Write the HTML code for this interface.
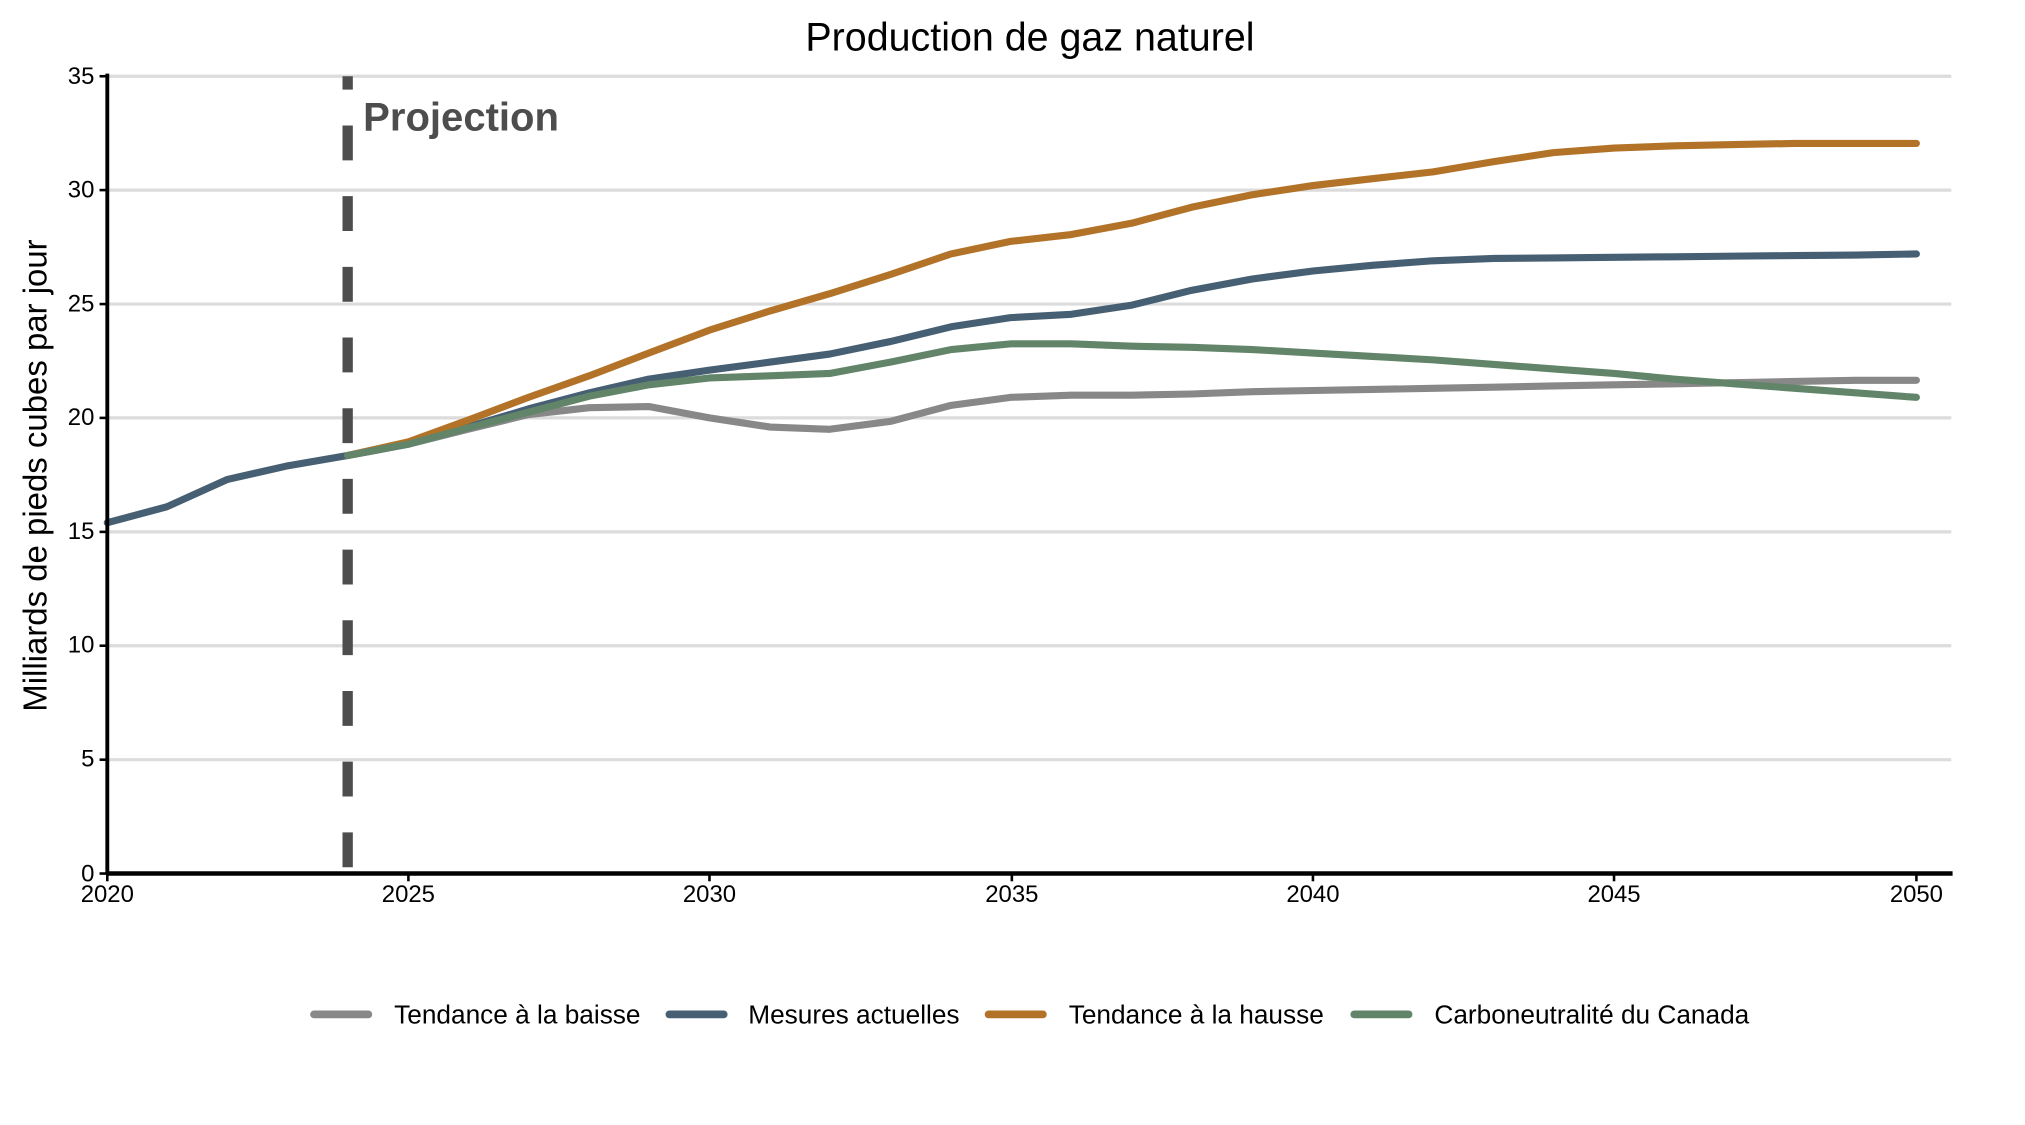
<!DOCTYPE html>
<html><head><meta charset="utf-8"><style>html,body{margin:0;padding:0;background:#fff;}svg{display:block}</style></head>
<body>
<svg width="2025" height="1125" viewBox="0 0 1567 870.6" xmlns="http://www.w3.org/2000/svg" font-family="Liberation Sans, Arial, sans-serif">
<rect width="1567" height="871" fill="#fff"/>
<text x="797" y="39" font-size="30.5" text-anchor="middle" fill="#000">Production de gaz naturel</text>
<g stroke="#dcdcdc" stroke-width="2.5">
<line x1="83" x2="1510" y1="59" y2="59"/><line x1="83" x2="1510" y1="147.1" y2="147.1"/>
<line x1="83" x2="1510" y1="235.3" y2="235.3"/><line x1="83" x2="1510" y1="323.4" y2="323.4"/>
<line x1="83" x2="1510" y1="411.6" y2="411.6"/><line x1="83" x2="1510" y1="499.7" y2="499.7"/>
<line x1="83" x2="1510" y1="587.9" y2="587.9"/>
</g>
<g font-size="18.5" fill="#000" text-anchor="end">
<text x="73" y="65">35</text><text x="73" y="153">30</text><text x="73" y="241">25</text><text x="73" y="329">20</text>
<text x="73" y="417">15</text><text x="73" y="505">10</text><text x="73" y="593">5</text><text x="73" y="682">0</text>
</g>
<g font-size="18.5" fill="#000" text-anchor="middle">
<text x="83" y="698">2020</text><text x="316" y="698">2025</text><text x="549" y="698">2030</text><text x="783" y="698">2035</text>
<text x="1016" y="698">2040</text><text x="1249" y="698">2045</text><text x="1483" y="698">2050</text>
</g>
<text transform="translate(36,368) rotate(-90)" font-size="25.5" text-anchor="middle" fill="#000">Milliards de pieds cubes par jour</text>
<line x1="269" x2="269" y1="59" y2="676" stroke="#4d4d4d" stroke-width="8" stroke-dasharray="27 27.7" stroke-dashoffset="16.6"/>
<text x="281" y="101" font-size="31" font-weight="bold" fill="#4d4d4d">Projection</text>
<g fill="none" stroke-width="5.5" stroke-linejoin="round" stroke-linecap="round">
<polyline stroke="#888888" points="269,352.5 316,343.7 362,332.2 409,320.8 456,315.5 502,314.6 549,323.4 596,330.5 642,332.2 689,326.1 736,313.7 782,307.5 829,305.8 876,305.8 922,304.9 969,303.1 1016,302.2 1062,301.4 1109,300.5 1156,299.6 1202,298.7 1249,297.8 1296,297 1342,296.1 1389,295.2 1436,294.3 1483,294.3"/>
<polyline stroke="#465f72" points="83,404.5 129,392.2 176,371 223,360.4 269,352.5 316,343.7 362,330.5 409,316.4 456,304.0 502,293.4 549,286.4 596,280.2 642,274.0 689,264.3 736,252.9 782,245.8 829,243.2 876,236.1 922,224.7 969,215.9 1016,209.7 1062,205.3 1109,201.8 1156,200.0 1202,199.6 1249,199.1 1296,198.7 1342,198.2 1389,197.8 1436,197.4 1483,196.5"/>
<polyline stroke="#b27329" points="269,352.5 316,341.9 362,325.2 409,307.5 456,290.8 502,273.2 549,255.5 596,240.6 642,227.3 689,212.4 736,196.5 782,186.8 829,181.5 876,172.7 922,160.4 969,150.7 1016,143.6 1062,138.3 1109,133.0 1156,125.1 1202,118.1 1249,114.6 1296,112.8 1342,111.9 1389,111.0 1436,111.0 1483,111.0"/>
<polyline stroke="#62856a" points="269,352.5 316,343.7 362,331.3 409,319.0 456,306.6 502,297.8 549,292.5 596,290.8 642,289.0 689,280.2 736,270.5 782,266.1 829,266.1 876,267.9 922,268.8 969,270.5 1016,273.2 1062,275.8 1109,278.5 1156,282.0 1202,285.5 1249,289.0 1296,293.4 1342,297.0 1389,300.5 1436,304.0 1483,307.5"/>
</g>
<line x1="83" x2="83" y1="57" y2="677" stroke="#000" stroke-width="3"/>
<line x1="82" x2="1511" y1="676" y2="676" stroke="#000" stroke-width="3.5"/>
<g stroke="#000" stroke-width="2">
<line x1="77" x2="83" y1="59" y2="59"/><line x1="77" x2="83" y1="147.1" y2="147.1"/><line x1="77" x2="83" y1="235.3" y2="235.3"/>
<line x1="77" x2="83" y1="323.4" y2="323.4"/><line x1="77" x2="83" y1="411.6" y2="411.6"/><line x1="77" x2="83" y1="499.7" y2="499.7"/>
<line x1="77" x2="83" y1="587.9" y2="587.9"/><line x1="77" x2="83" y1="676" y2="676"/>
<line x1="83" x2="83" y1="676" y2="682"/><line x1="316" x2="316" y1="676" y2="682"/><line x1="549" x2="549" y1="676" y2="682"/>
<line x1="783" x2="783" y1="676" y2="682"/><line x1="1016" x2="1016" y1="676" y2="682"/><line x1="1249" x2="1249" y1="676" y2="682"/>
<line x1="1483" x2="1483" y1="676" y2="682"/>
</g>
<g stroke-width="6" stroke-linecap="round">
<line x1="243" x2="285" y1="785" y2="785" stroke="#888888"/>
<line x1="518" x2="560" y1="785" y2="785" stroke="#465f72"/>
<line x1="765" x2="807" y1="785" y2="785" stroke="#b27329"/>
<line x1="1048" x2="1090" y1="785" y2="785" stroke="#62856a"/>
</g>
<g font-size="20.3" fill="#000">
<text x="305" y="792">Tendance à la baisse</text>
<text x="579" y="792">Mesures actuelles</text>
<text x="827" y="792">Tendance à la hausse</text>
<text x="1110" y="792">Carboneutralité du Canada</text>
</g>
</svg>
</body></html>
